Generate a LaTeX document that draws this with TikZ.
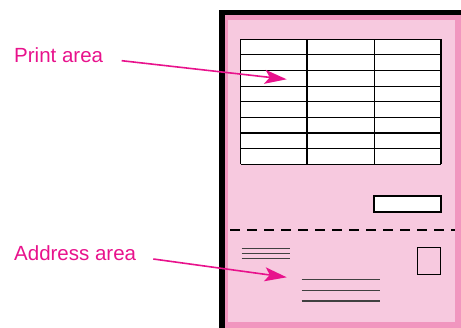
\documentclass[tikz,border=0pt]{standalone}
\usepackage{fontspec}
\setmainfont{Liberation Sans}
\usetikzlibrary{arrows.meta}
\definecolor{hpmagenta}{HTML}{E8128C}
\definecolor{sheetpink}{HTML}{F7C9DF}
\definecolor{edgepink}{HTML}{F196BF}
\tikzset{
  callout/.style={text=hpmagenta, font=\fontsize{20.5}{24}\selectfont,
                  anchor=base west, inner sep=0pt},
  pointer/.style={-{Stealth[length=22pt,width=14pt,inset=5pt]},
                  draw=hpmagenta, fill=hpmagenta, line width=1.6pt},
  ruling/.style={draw=black, line width=1.1pt},
  textline/.style={draw=black!75, line width=1.1pt},
  tearline/.style={draw=black, line width=2pt, dash pattern=on 10pt off 7pt},
}

\begin{document}
\begin{tikzpicture}[x=1pt, y=-1pt]
  \useasboundingbox (0,0) rectangle (461,328);
  % sheet with its black edge
  \fill[black] (219,10) rectangle (461,328);
  \fill[edgepink] (225,15) rectangle (461,328);
  \fill[sheetpink] (228,20) rectangle (455,322);

  % print area table
  \fill[white] (240.7,39.3) rectangle (441,164.3);
  \foreach \r in {0,...,8}
    \draw[ruling] (240.7,39.3+15.625*\r) -- (441,39.3+15.625*\r);
  \foreach \c in {240.7,307,374.3,441}
    \draw[ruling] (\c,39.3) -- (\c,164.3);
  \draw[ruling, fill=white] (374,196) rectangle (441,212);

  % tear-off line
  \draw[tearline] (230,230) -- (455,230);

  % address area
  \foreach \y in {248.3,253.3,258.7}
    \draw[textline] (241.7,\y) -- (290.3,\y);
  \draw[ruling] (417.3,247.7) rectangle (440.7,274.3);
  \foreach \y in {279.7,290.3,301}
    \draw[textline] (301.7,\y) -- (379.7,\y);

  % labels
  \node[callout] (lblprint) at (14,62.3) {Print area};
  \node[callout] (lbladdr) at (14,260.7) {Address area};
  \coordinate (printfrom) at (121.7,60.7);
  \coordinate (printto) at (286.7,79.3);
  \coordinate (addrfrom) at (153.3,259);
  \coordinate (addrto) at (286.7,277.3);
  \draw[pointer] (printfrom) -- (printto);
  \draw[pointer] (addrfrom) -- (addrto);
\end{tikzpicture}
\end{document}
